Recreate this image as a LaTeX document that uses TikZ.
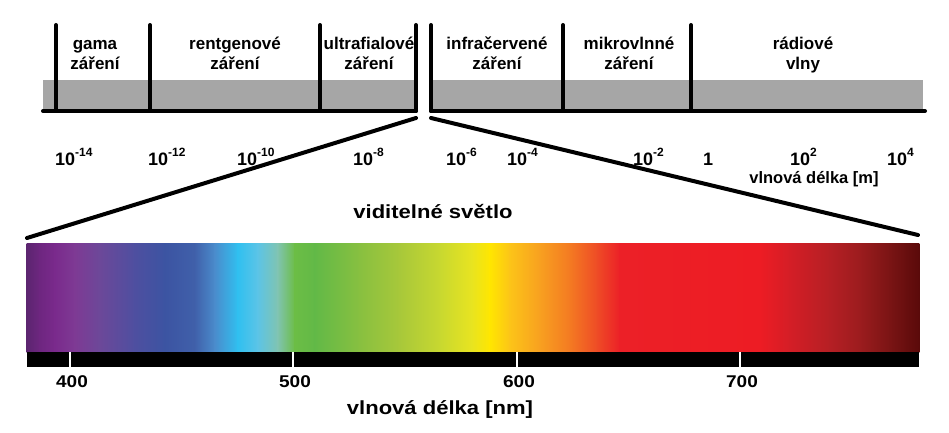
\documentclass[tikz,border=0pt]{standalone}
\usepackage{fontspec}
\setmainfont{Liberation Sans}
\definecolor{graybar}{HTML}{A6A6A6}
\newcommand\ex[1]{\raisebox{0.45em}{\fontsize{12}{12}\selectfont\bfseries #1}}
\newcommand\widetxt[1]{\scalebox{1.16}[1]{#1}}
\tikzset{
  blk/.style={line width=4pt, line cap=round, black},
  band/.style={fill=graybar},
  lbl/.style={font=\fontsize{17}{20}\selectfont\bfseries, align=center, inner sep=0pt, anchor=base},
  num/.style={font=\fontsize{18}{20}\selectfont\bfseries, inner sep=0pt, anchor=base west},
  nmnum/.style={font=\fontsize{17}{20}\selectfont\bfseries, inner sep=0pt, anchor=base},
  title/.style={font=\fontsize{19}{22}\selectfont\bfseries, inner sep=0pt, anchor=base},
  tick/.style={white, line width=2pt},
}
\begin{document}
\begin{tikzpicture}[x=1pt,y=-1pt]
\useasboundingbox (0,0) rectangle (949,433);
% gray bands
\fill[band] (43,80) rectangle (417,111);
\fill[band] (431,80) rectangle (923,111);
% vertical separators
\foreach \x [count=\i] in {56,150,320,416,431,563,691}{
  \coordinate (vt\i) at (\x,25);
  \coordinate (vb\i) at (\x,111);
  \draw[blk] (vt\i) -- (vb\i);
}
% baselines
\coordinate (hl1) at (43,111); \coordinate (hl2) at (416,111);
\coordinate (hr1) at (431,111); \coordinate (hr2) at (925,111);
\draw[blk] (hl1) -- (hl2);
\draw[blk] (hr1) -- (hr2);
% region labels (anchor = baseline of second line)
\node[lbl] (gama) at (95,70) {gama\\záření};
\node[lbl] (rtg) at (235,70) {rentgenové\\záření};
\node[lbl] (uv) at (369,70) {ultrafialové\\záření};
\node[lbl] (ir) at (497,70) {infračervené\\záření};
\node[lbl] (mw) at (629,70) {mikrovlnné\\záření};
\node[lbl] (rad) at (803,70) {rádiové\\vlny};
% wavelength numbers
\node[num] (n1) at (55,165) {10\ex{-14}};
\node[num] (n2) at (148,165) {10\ex{-12}};
\node[num] (n3) at (237,165) {10\ex{-10}};
\node[num] (n4) at (353,165) {10\ex{-8}};
\node[num] (n5) at (446,165) {10\ex{-6}};
\node[num] (n6) at (507,165) {10\ex{-4}};
\node[num] (n7) at (633,165) {10\ex{-2}};
\node[num] (n8) at (703,165) {1};
\node[num] (n9) at (790,165) {10\ex{2}};
\node[num] (n10) at (887,165) {10\ex{4}};
\node[font=\fontsize{16.5}{20}\selectfont\bfseries, inner sep=0pt, anchor=base] (unitm) at (814,183) {vlnová délka [m]};
% zoom lines
\coordinate (L1) at (416,118); \coordinate (L2) at (27,238);
\coordinate (R1) at (431,118); \coordinate (R2) at (918,235);
\draw[blk] (L1) -- (L2);
\draw[blk] (R1) -- (R2);
\node[title] (vis) at (433,218) {\widetxt{viditelné světlo}};
% spectrum
\foreach \xa/\ca/\xb/\cb in {
 27/5C2570/40/6E2680, 40/6E2680/55/7A2A8C, 55/7A2A8C/75/7E3A94,
 75/7E3A94/100/6C4899, 100/6C4899/135/4E4FA0, 135/4E4FA0/165/3C54A2,
 165/3C54A2/195/4060AA, 195/4060AA/215/4A8CCC, 215/4A8CCC/238/30C0F0,
 238/30C0F0/258/5CC4E6, 258/5CC4E6/278/80C4B0, 278/80C4B0/295/6CBD45,
 295/6CBD45/315/62B947, 315/62B947/360/88C040, 360/88C040/400/A8C83A,
 400/A8C83A/440/C8D830, 440/C8D830/472/E8E420, 472/E8E420/490/FFE600,
 490/FFE600/510/FCC418, 510/FCC418/540/F8A020, 540/F8A020/570/F47A22,
 570/F47A22/598/EE4A26, 598/EE4A26/620/EC2027, 620/EC2027/760/ED1C24,
 760/ED1C24/790/D41E26, 790/D41E26/830/B51F24, 830/B51F24/860/9C1C1E,
 860/9C1C1E/890/7A1414, 890/7A1414/919/5A0A0A}{
  \definecolor{ca}{HTML}{\ca}\definecolor{cb}{HTML}{\cb}
  \fill[left color=ca, right color=cb] (\xa-0.4,243) rectangle (\xb+0.4,352);
}
\coordinate (sb1) at (27,352); \coordinate (sb2) at (919,367);
\fill[black] (sb1) rectangle (sb2);
\foreach \x/\t in {70/400,293/500,517/600,740/700}{
  \coordinate (tk\t a) at (\x,352); \coordinate (tk\t b) at (\x,367);
  \draw[tick] (tk\t a) -- (tk\t b);
  \node[nmnum] (lab\t) at (\x+2,387) {\scalebox{1.12}[1]{\t}};
}
\node[title] (unitnm) at (440,414) {\widetxt{vlnová délka [nm]}};
\end{tikzpicture}
\end{document}
